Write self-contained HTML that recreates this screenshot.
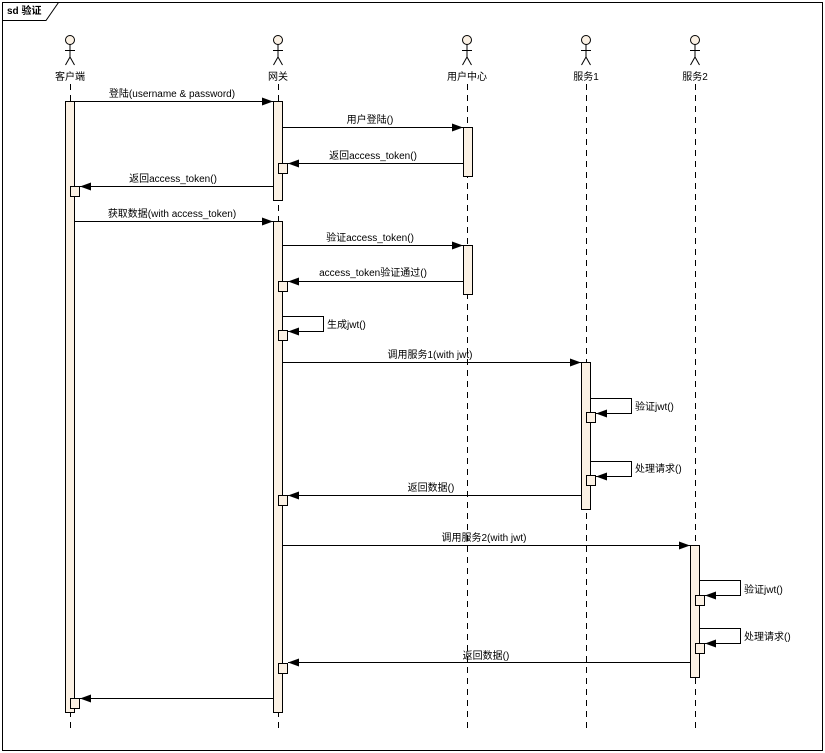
<!DOCTYPE html>
<html><head><meta charset="utf-8"><style>
html,body{margin:0;padding:0;background:#fff}
svg{display:block}
text{font-family:"Liberation Sans","Noto Sans CJK SC",sans-serif;font-size:10px;fill:#000}
.bar{fill:#fbf1e4;stroke:#000;stroke-width:1}
.ll{stroke:#000;stroke-width:1;stroke-dasharray:6,5}
.m{stroke:#000;stroke-width:1;fill:none}
</style></head><body>
<svg width="825" height="753" viewBox="0 0 825 753" xmlns="http://www.w3.org/2000/svg">
<defs>
<marker id="a" markerWidth="11" markerHeight="8" refX="11" refY="4" orient="auto" markerUnits="userSpaceOnUse"><path d="M0,0L11,4L0,8z" fill="#000"/></marker>
<g id="actor"><circle cx="0" cy="40" r="4.5" fill="#fbf1e4" stroke="#000"/><path d="M0,44.5V57M-5,50.5H5M0,57L-4.5,65M0,57L4.5,65" stroke="#000" fill="none"/></g>
</defs>
<rect x="2.5" y="2.5" width="820" height="748" fill="none" stroke="#000"/>
<path d="M2.5,20.5H46L58.5,2.5" fill="none" stroke="#000"/>
<text x="7" y="14" style="font-weight:bold;font-size:10px">sd 验证</text>

<use href="#actor" x="70"/><use href="#actor" x="278"/><use href="#actor" x="467"/><use href="#actor" x="586"/><use href="#actor" x="695"/>
<text x="70" y="80" text-anchor="middle">客户端</text>
<text x="278" y="80" text-anchor="middle">网关</text>
<text x="467" y="80" text-anchor="middle">用户中心</text>
<text x="586" y="80" text-anchor="middle">服务1</text>
<text x="695" y="80" text-anchor="middle">服务2</text>

<g class="ll"><path d="M70.5,84V729M278.5,84V729M467.5,84V729M586.5,84V729M695.5,84V729"/></g>

<rect class="bar" x="65.5" y="101.5" width="9" height="611"/>
<rect class="bar" x="273.5" y="101.5" width="9" height="99"/>
<rect class="bar" x="273.5" y="221.5" width="9" height="491"/>
<rect class="bar" x="463.5" y="127.5" width="9" height="49"/>
<rect class="bar" x="463.5" y="245.5" width="9" height="49"/>
<rect class="bar" x="581.5" y="362.5" width="9" height="147"/>
<rect class="bar" x="690.5" y="545.5" width="9" height="132"/>

<g class="m">
<path d="M75,101.5H273" marker-end="url(#a)"/>
<path d="M283,127.5H463" marker-end="url(#a)"/>
<path d="M463,163.5H288" marker-end="url(#a)"/>
<path d="M273,186.5H80" marker-end="url(#a)"/>
<path d="M75,221.5H273" marker-end="url(#a)"/>
<path d="M283,245.5H463" marker-end="url(#a)"/>
<path d="M463,281.5H288" marker-end="url(#a)"/>
<path d="M283,316.5H323.5V331.5H288" marker-end="url(#a)"/>
<path d="M283,362.5H581" marker-end="url(#a)"/>
<path d="M591,398.5H631.5V413.5H596" marker-end="url(#a)"/>
<path d="M591,461.5H631.5V476.5H596" marker-end="url(#a)"/>
<path d="M581,495.5H288" marker-end="url(#a)"/>
<path d="M283,545.5H690" marker-end="url(#a)"/>
<path d="M700,580.5H740.5V595.5H705" marker-end="url(#a)"/>
<path d="M700,628.5H740.5V643.5H705" marker-end="url(#a)"/>
<path d="M690,662.5H288" marker-end="url(#a)"/>
<path d="M273,698.5H80" marker-end="url(#a)"/>
</g>

<rect class="bar" x="278.5" y="163.5" width="9" height="10"/>
<rect class="bar" x="70.5" y="186.5" width="9" height="10"/>
<rect class="bar" x="278.5" y="281.5" width="9" height="10"/>
<rect class="bar" x="278.5" y="330.5" width="9" height="10"/>
<rect class="bar" x="586.5" y="412.5" width="9" height="10"/>
<rect class="bar" x="586.5" y="475.5" width="9" height="10"/>
<rect class="bar" x="278.5" y="495.5" width="9" height="10"/>
<rect class="bar" x="695.5" y="595.5" width="9" height="10"/>
<rect class="bar" x="695.5" y="643.5" width="9" height="10"/>
<rect class="bar" x="278.5" y="663.5" width="9" height="10"/>
<rect class="bar" x="70.5" y="698.5" width="9" height="10"/>

<text x="172" y="97" text-anchor="middle">登陆(username &amp; password)</text>
<text x="370" y="123" text-anchor="middle">用户登陆()</text>
<text x="373" y="159" text-anchor="middle">返回access_token()</text>
<text x="173" y="182" text-anchor="middle">返回access_token()</text>
<text x="172" y="217" text-anchor="middle">获取数据(with access_token)</text>
<text x="370" y="241" text-anchor="middle">验证access_token()</text>
<text x="373" y="276" text-anchor="middle">access_token验证通过()</text>
<text x="327" y="328">生成jwt()</text>
<text x="430" y="358" text-anchor="middle">调用服务1(with jwt)</text>
<text x="635" y="410">验证jwt()</text>
<text x="635" y="472">处理请求()</text>
<text x="431" y="491" text-anchor="middle">返回数据()</text>
<text x="484" y="541" text-anchor="middle">调用服务2(with jwt)</text>
<text x="744" y="593">验证jwt()</text>
<text x="744" y="640">处理请求()</text>
<text x="486" y="659" text-anchor="middle">返回数据()</text>
</svg>
</body></html>
